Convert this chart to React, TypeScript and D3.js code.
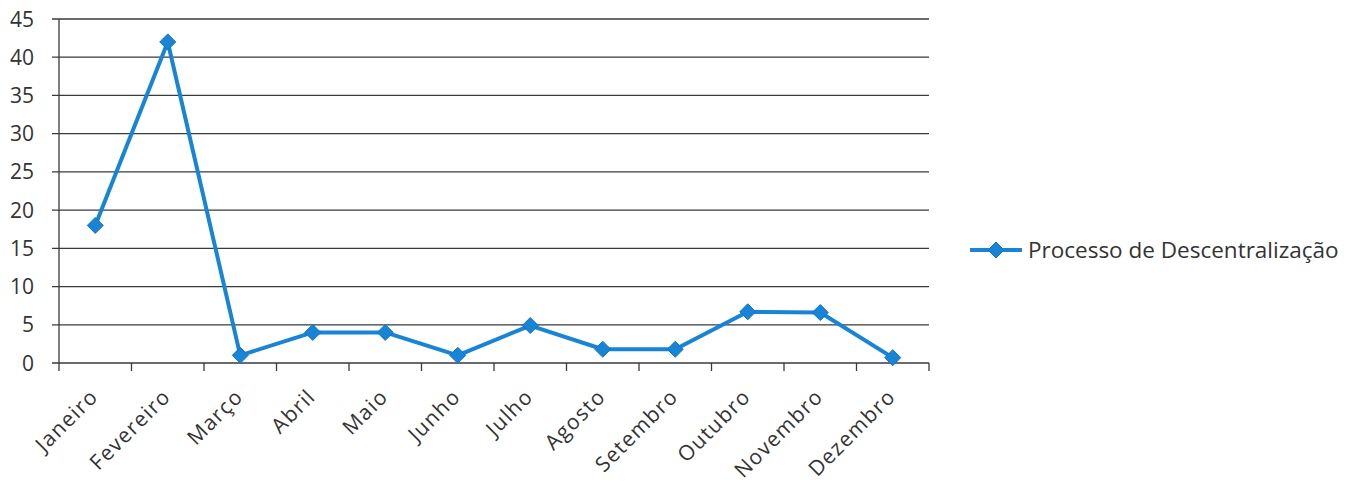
import React from "react";
import * as d3 from "d3";

const months = ["Janeiro", "Fevereiro", "Março", "Abril", "Maio", "Junho", "Julho", "Agosto", "Setembro", "Outubro", "Novembro", "Dezembro"];
const values = [18, 42, 1, 4, 4, 1, 4.9, 1.8, 1.8, 6.7, 6.6, 0.7];
const yTicks = [0, 5, 10, 15, 20, 25, 30, 35, 40, 45];
const seriesName = "Processo de Descentralização";

const W = 1359, H = 486;
const left = 59, right = 929, top = 19, bottom = 363;
const blue = "#1884d6";
const font = "'Open Sans', 'Noto Sans', sans-serif";

export default function App() {
  const x = d3.scaleBand<string>().domain(months).range([left, right]).padding(0);
  const y = d3.scaleLinear().domain([0, 45]).range([bottom, top]);
  const line = d3.line<number>().x((_, i) => (x(months[i]) as number) + x.bandwidth() / 2).y(d => y(d));
  const diamond = (cx: number, cy: number, r: number) => `M${cx},${cy - r}L${cx + r},${cy}L${cx},${cy + r}L${cx - r},${cy}Z`;
  const boundaries = months.map(m => x(m) as number).concat([right]);
  return (
    <svg width={W} height={H} style={{ position: "absolute", left: 0, top: 0, background: "#fff" }}>
      {yTicks.map(t => (
        <g key={t}>
          <line x1={left - 7} x2={right} y1={y(t)} y2={y(t)} stroke="#3a3a3a" strokeWidth={1.3} />
          <text x={left - 25} y={y(t)} dy="0.36em" textAnchor="end" fontFamily={font} fontSize={21} fill="#333">{t}</text>
        </g>
      ))}
      <line x1={left} x2={left} y1={top} y2={bottom} stroke="#3a3a3a" strokeWidth={1.3} />
      {boundaries.map((b, i) => (
        <line key={i} x1={b} x2={b} y1={bottom} y2={bottom + 8} stroke="#3a3a3a" strokeWidth={1.3} />
      ))}
      {months.map(m => {
        const cx = (x(m) as number) + x.bandwidth() / 2 + 4;
        const cy = bottom + 35;
        return (
          <text key={m} x={cx} y={cy} textAnchor="end" fontFamily={font} fontSize={21} letterSpacing={1.3} fill="#333"
            transform={`rotate(-45 ${cx} ${cy})`}>{m}</text>
        );
      })}
      <path d={line(values) || ""} fill="none" stroke={blue} strokeWidth={4} strokeLinejoin="round" />
      {values.map((v, i) => (
        <path key={i} d={diamond((x(months[i]) as number) + x.bandwidth() / 2, y(v), 8)} fill={blue} stroke="#1672bd" strokeWidth={1} />
      ))}
      <line x1={970} x2={1022} y1={250} y2={250} stroke={blue} strokeWidth={4} />
      <path d={diamond(996, 250, 8)} fill={blue} stroke="#1672bd" strokeWidth={1} />
      <text x={1028} y={250} dy="0.36em" fontFamily={font} fontSize={22.5} fill="#333">{seriesName}</text>
    </svg>
  );
}
